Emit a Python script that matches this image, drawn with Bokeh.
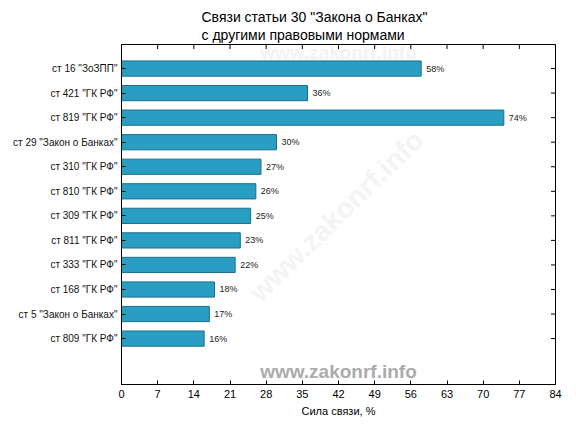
from bokeh.plotting import figure
from bokeh.models import Range1d, FixedTicker, Title, Label, ColumnDataSource
from bokeh.core.properties import value
from bokeh.embed import file_html
from bokeh.resources import INLINE

categories = ['ст 16 "ЗоЗПП"', 'ст 421 "ГК РФ"', 'ст 819 "ГК РФ"', 'ст 29 "Закон о Банках"',
              'ст 310 "ГК РФ"', 'ст 810 "ГК РФ"', 'ст 309 "ГК РФ"', 'ст 811 "ГК РФ"',
              'ст 333 "ГК РФ"', 'ст 168 "ГК РФ"', 'ст 5 "Закон о Банках"', 'ст 809 "ГК РФ"']
values = [58, 36, 74, 30, 27, 26, 25, 23, 22, 18, 17, 16]
x_ticks = [0, 7, 14, 21, 28, 35, 42, 49, 56, 63, 70, 77, 84]
title_lines = ['Связи статьи 30 "Закона о Банках"', "с другими правовыми нормами"]

FONT = "Liberation Sans"
X_MAX = 84
Y_TOP = -0.98
Y_BOT = 12.87
pos = list(range(len(categories)))
src = ColumnDataSource(dict(y=pos, v=values, lab=[f"{v}%" for v in values]))

p = figure(width=570, height=426, output_backend="svg", toolbar_location=None,
           x_range=Range1d(0, X_MAX), y_range=Range1d(Y_BOT, Y_TOP),
           min_border_left=121, min_border_right=15, min_border_top=44, min_border_bottom=42)
p.outline_line_color = "black"
p.outline_line_width = 1
p.xgrid.visible = False
p.ygrid.visible = False
p.background_fill_color = "white"
p.border_fill_color = "white"

# faint watermarks
p.add_layout(Label(x=42, y=-0.65, text="www.zakonrf.info", text_font=FONT, text_font_style="bold",
                   text_font_size="19px", text_color="#f3f3f3", text_align="center", text_baseline="middle",
                   level="underlay"))
p.add_layout(Label(x=41.6, y=6.0, text="www.zakonrf.info", text_font=FONT, text_font_style="bold",
                   text_font_size="28px", text_color="#f4f4f4", text_align="center", text_baseline="middle",
                   angle=0.775, level="underlay"))

p.hbar(y="y", right="v", left=0, height=0.62, source=src, fill_color="#2a9dc3", line_color="#1c6f8c",
       line_width=1)
p.text(x="v", y="y", text="lab", source=src, x_offset=5, text_font=value(FONT), text_font_size="9px",
       text_color="#222222", text_baseline="middle", text_align="left")

p.add_layout(Label(x=42, y=12.34, text="www.zakonrf.info", text_font=FONT, text_font_style="bold",
                   text_font_size="19px", text_color="#ababab", text_align="center", text_baseline="middle"))

# inner tick marks on the top and right edges (half of each dash is clipped by the frame)
p.scatter(x=x_ticks, y=[Y_TOP] * len(x_ticks), marker="dash", angle=1.5708, size=9,
          line_color="black", line_width=1)
p.scatter(x=[X_MAX] * len(pos), y=pos, marker="dash", size=9, line_color="black", line_width=1)

# axes
xa = p.xaxis[0]
xa.ticker = FixedTicker(ticks=x_ticks)
xa.axis_label = "Сила связи, %"
xa.axis_label_text_font = FONT
xa.axis_label_text_font_size = "11px"
xa.axis_label_text_font_style = "normal"
xa.axis_label_text_color = "black"
xa.axis_label_standoff = 4
xa.major_label_text_font = FONT
xa.major_label_text_font_size = "11px"
xa.major_label_text_color = "black"
xa.major_label_standoff = 5
xa.major_tick_in = 4
xa.major_tick_out = 0
xa.minor_tick_in = 0
xa.minor_tick_out = 0
xa.axis_line_color = "black"
xa.major_tick_line_color = "black"

ya = p.yaxis[0]
ya.ticker = FixedTicker(ticks=pos)
ya.major_label_overrides = {i: c for i, c in enumerate(categories)}
ya.major_label_text_font = FONT
ya.major_label_text_font_size = "10px"
ya.major_label_text_color = "#111111"
ya.major_label_standoff = 4
ya.major_tick_in = 4
ya.major_tick_out = 0
ya.minor_tick_in = 0
ya.minor_tick_out = 0
ya.axis_line_color = "black"
ya.major_tick_line_color = "black"

p.add_layout(Title(text="\n".join(title_lines), text_font=FONT, text_font_size="14px",
                   text_font_style="normal", text_color="black", align="left", offset=80,
                   standoff=2, text_line_height=1.15), "above")

open("out.html", "w").write(file_html(p, INLINE))
